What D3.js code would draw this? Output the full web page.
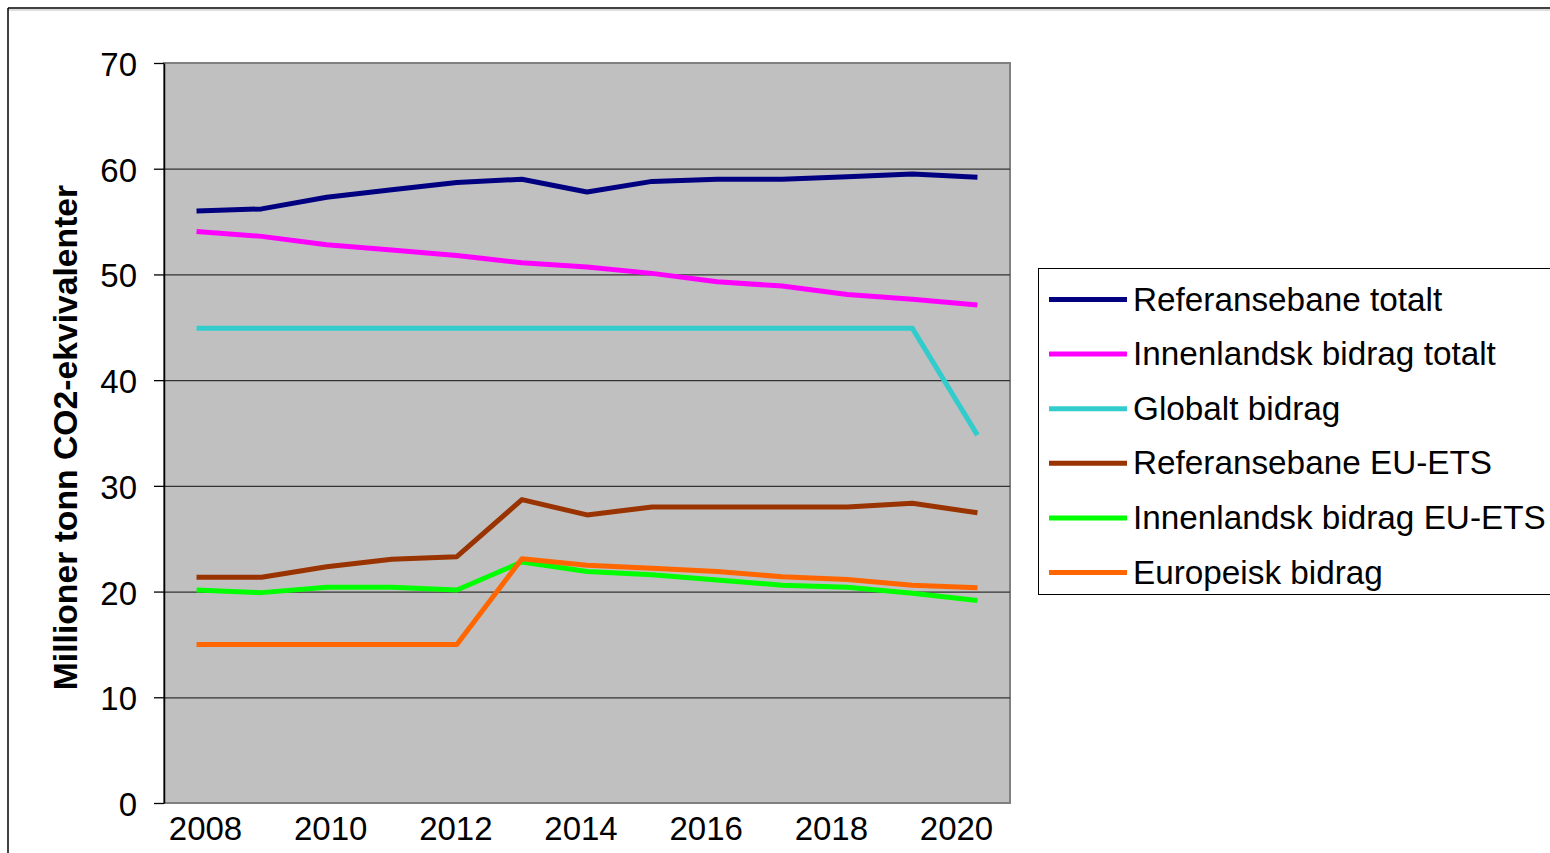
<html>
<head>
<meta charset="utf-8">
<script src="https://cdn.jsdelivr.net/npm/d3@7"></script>
<style>
  body { margin: 0; background: #fff; }
  text { font-family: "Liberation Sans", Arial, sans-serif; }
  .grid line { stroke: #333; stroke-width: 1.3; }
  .grid path { stroke-width: 0; }
  .y_axis path { stroke: #000; stroke-width: 1.5; }
  .y_axis line { stroke: #000; stroke-width: 1.3; }
  .x_axis path { display: none; }
</style>
</head>
<body>
<svg id="chart" width="1550" height="853"></svg>
<script>
var years = [2008, 2009, 2010, 2011, 2012, 2013, 2014, 2015, 2016, 2017, 2018, 2019, 2020];
var labelYears = [2008, 2010, 2012, 2014, 2016, 2018, 2020];
var yTicks = [0, 10, 20, 30, 40, 50, 60, 70];

var seriesNames = ["Referansebane totalt", "Innenlandsk bidrag totalt", "Globalt bidrag",
                   "Referansebane EU-ETS", "Innenlandsk bidrag EU-ETS", "Europeisk bidrag"];
var seriesColors = ["#000080", "#ff00ff", "#33cccc", "#993300", "#00ff00", "#ff6600"];

var refTotal   = [56.0, 56.2, 57.3, 58.0, 58.7, 59.0, 57.8, 58.8, 59.0, 59.0, 59.25, 59.5, 59.2];
var innenTotal = [54.05, 53.6, 52.8, 52.3, 51.8, 51.1, 50.7, 50.1, 49.3, 48.9, 48.1, 47.65, 47.1];
var globalt    = [44.9, 44.9, 44.9, 44.9, 44.9, 44.9, 44.9, 44.9, 44.9, 44.9, 44.9, 44.9, 34.8];
var refEts     = [21.35, 21.35, 22.35, 23.05, 23.3, 28.7, 27.25, 28.0, 28.0, 28.0, 28.0, 28.35, 27.45];
var innenEts   = [20.15, 19.9, 20.4, 20.4, 20.15, 22.8, 21.9, 21.6, 21.1, 20.6, 20.4, 19.85, 19.15];
var europeisk  = [15.0, 15.0, 15.0, 15.0, 15.0, 23.1, 22.5, 22.2, 21.9, 21.4, 21.15, 20.6, 20.35];

var allSeries = [refTotal, innenTotal, globalt, refEts, innenEts, europeisk];

var svg = d3.select("#chart"),
    PLOT = { left: 164, right: 1010, top: 63, bottom: 803 };

// outer frame
svg.append("line").attr("x1", 8).attr("x2", 1550).attr("y1", 8).attr("y2", 8)
   .attr("stroke", "#000").attr("stroke-width", 1.5);
svg.append("line").attr("x1", 8).attr("x2", 1550).attr("y1", 10).attr("y2", 10)
   .attr("stroke", "#bbb").attr("stroke-width", 1);
svg.append("line").attr("x1", 8).attr("x2", 8).attr("y1", 8).attr("y2", 853)
   .attr("stroke", "#000").attr("stroke-width", 1.5);

var xScale = d3.scalePoint().domain(years).range([PLOT.left, PLOT.right]).padding(0.5);
var xLabel = d3.scaleLinear().domain([2008, 2020]).range([205, 956]);
var yScale = d3.scaleLinear().domain([0, 70]).range([PLOT.bottom, PLOT.top]);

// plot background
svg.append("rect")
   .attr("x", PLOT.left).attr("y", PLOT.top)
   .attr("width", PLOT.right - PLOT.left).attr("height", PLOT.bottom - PLOT.top)
   .attr("fill", "#c0c0c0").attr("stroke", "#808080").attr("stroke-width", 2);

// gridlines
svg.append("g")
   .attr("class", "grid")
   .attr("transform", "translate(" + PLOT.left + ",0)")
   .call(d3.axisLeft(yScale).tickValues(yTicks.slice(1, -1))
         .tickSize(-(PLOT.right - PLOT.left)).tickFormat(""));

// y axis
svg.append("g")
   .attr("class", "y_axis")
   .attr("transform", "translate(" + PLOT.left + ",0)")
   .call(d3.axisLeft(yScale).tickValues(yTicks).tickSize(10).tickPadding(17).tickSizeOuter(0))
   .selectAll("text")
   .attr("font-size", 33).attr("fill", "#000").attr("dy", "0.38em")
   .attr("font-family", "Liberation Sans, Arial, sans-serif");

// x axis labels
svg.append("g")
   .attr("class", "x_axis")
   .attr("transform", "translate(0," + PLOT.bottom + ")")
   .call(d3.axisBottom(xLabel).tickValues(labelYears).tickSize(0).tickPadding(14).tickFormat(d3.format("d")))
   .selectAll("text")
   .attr("font-size", 33).attr("fill", "#000")
   .attr("font-family", "Liberation Sans, Arial, sans-serif");

// y title
svg.append("text")
   .attr("transform", "translate(77," + ((185 + 690) / 2) + ") rotate(-90)")
   .attr("text-anchor", "middle")
   .attr("font-size", 33.7).attr("font-weight", "bold")
   .text("Millioner tonn CO2-ekvivalenter");

// lines
var lineGen = d3.line()
    .x(function(d, i) { return xScale(years[i]); })
    .y(function(d) { return yScale(d); });

allSeries.forEach(function(s, k) {
    svg.append("path")
       .attr("d", lineGen(s))
       .attr("fill", "none")
       .attr("stroke", seriesColors[k])
       .attr("stroke-width", 5)
       .attr("stroke-linejoin", "round");
});

// legend
var legend = svg.append("g");
legend.append("rect")
   .attr("x", 1038.5).attr("y", 268.5).attr("width", 530).attr("height", 326)
   .attr("fill", "#fff").attr("stroke", "#000").attr("stroke-width", 1);

var rowY = d3.scaleLinear().domain([0, 5]).range([299.5, 572.5]);
seriesNames.forEach(function(name, k) {
    var y = rowY(k);
    legend.append("line")
       .attr("x1", 1049).attr("x2", 1127).attr("y1", y).attr("y2", y)
       .attr("stroke", seriesColors[k]).attr("stroke-width", 5);
    legend.append("text")
       .attr("x", 1133).attr("y", y + 11)
       .attr("font-size", 33.3)
       .text(name);
});
</script>
</body>
</html>
